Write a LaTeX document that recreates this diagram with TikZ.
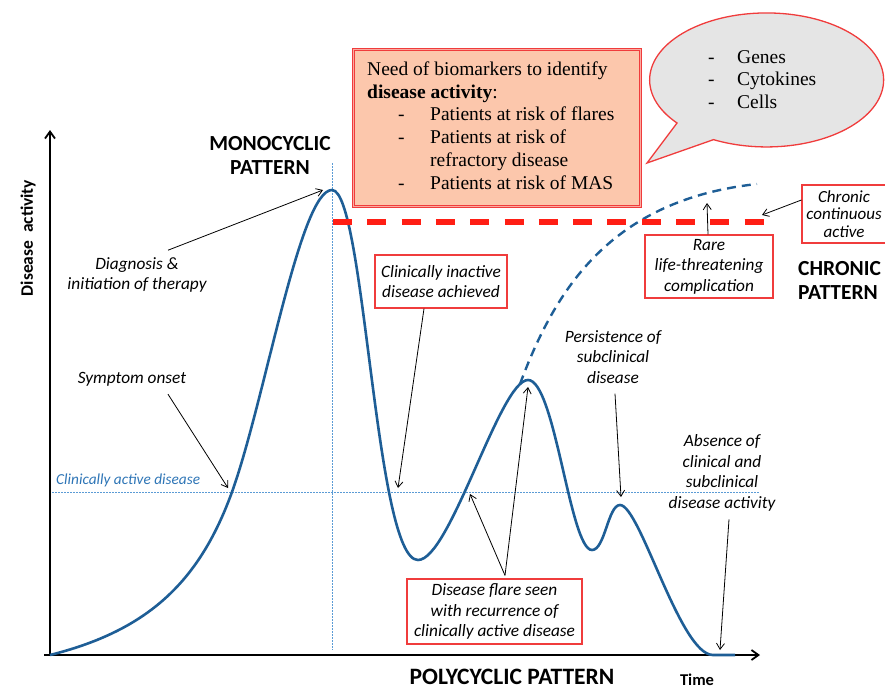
\documentclass[tikz,border=0pt]{standalone}
\usepackage{fontspec}
\usetikzlibrary{arrows.meta}
\newfontfamily\lab{Carlito}
\newfontfamily\tms{Liberation Serif}
\definecolor{curveblue}{RGB}{30,94,150}
\definecolor{dotblue}{RGB}{91,155,213}
\definecolor{txtblue}{RGB}{46,117,182}
\definecolor{boxred}{RGB}{240,60,60}
\definecolor{dashred}{RGB}{255,30,20}
\definecolor{salmon}{RGB}{252,199,172}
\definecolor{salmonedge}{RGB}{250,170,160}
\definecolor{bubblegray}{RGB}{229,229,229}
\begin{document}
\begin{tikzpicture}[x=1pt,y=-1pt,
  lbl/.style={font=\lab\itshape\fontsize{17.3}{20.5}\selectfont, align=center, inner sep=0pt},
  lblbox/.style={lbl, draw=boxred, line width=1.2pt, fill=white},
  head/.style={font=\lab\bfseries\fontsize{21.5}{24}\selectfont, align=center, inner sep=0pt},
  smallhead/.style={font=\lab\bfseries\fontsize{16.5}{19}\selectfont, inner sep=0pt},
  callout/.style={-{Straight Barb[length=6pt,width=8pt]}, line width=0.8pt, black},
  guide/.style={dotblue, line width=1pt, dash pattern=on 1.5pt off 1.5pt},
  axis/.style={-{Straight Barb[length=7pt,width=10pt]}, line width=1.8pt, black},
  curve/.style={curveblue, line width=2.6pt},
  serif/.style={font=\tms\fontsize{19.5}{22.7}\selectfont, inner sep=0pt, anchor=north west},
]
\useasboundingbox (0,0) rectangle (885,689);

% named points
\coordinate (O) at (50,655);
\coordinate (ytip) at (50,130);
\coordinate (xstart) at (44,655);
\coordinate (xtip) at (760,655);
\coordinate (vtop) at (332,163);
\coordinate (vbot) at (332,650);
\coordinate (hleft) at (52,492);
\coordinate (hright) at (760,492);
\coordinate (pk1) at (323,190);
\coordinate (onset) at (228,488);
\coordinate (cross1) at (398,488);
\coordinate (cross2) at (470,494);
\coordinate (pk2) at (528,387);
\coordinate (pk3) at (621,497);
\coordinate (flatend) at (720,650);
\coordinate (branch) at (707,203);
\coordinate (reddash) at (762,215);
\coordinate (brstart) at (520,384);
\coordinate (brend) at (757,184);
\coordinate (rdl) at (333,222);
\coordinate (rdr) at (765,222);

% guide lines
\draw[guide] (vtop) -- (vbot);
\draw[guide] (hleft) -- (hright);

% axes
\draw[axis] (O) -- (ytip);
\draw[axis] (xstart) -- (xtip);

% main curve
\draw[curve] (O) .. controls (150,630) and (200,580) .. (232,492)
  .. controls (265,400) and (300,190) .. (332,190)
  .. controls (365,190) and (375,560) .. (418,560)
  .. controls (450,560) and (500,380) .. (528,380)
  .. controls (555,380) and (570,550) .. (592,550)
  .. controls (605,550) and (608,505) .. (620,505)
  .. controls (640,505) and (680,655) .. (713,655) -- (735,655);

% chronic branch
\draw[curve, line width=2.4pt, dash pattern=on 9pt off 6pt] (brstart) .. controls (555,290) and (610,200) .. (brend);

% red dashed threshold
\draw[dashred, line width=6.5pt, dash pattern=on 19pt off 15.3pt] (rdl) -- (rdr);

% biomarker box
\node[draw=boxred, double=salmonedge, double distance=1.5pt, line width=0.8pt, fill=salmon,
      minimum width=287pt, minimum height=157pt, anchor=north west] (bio) at (353,49) {};
\node[serif] (biotxt) at (367,59.5) {\begin{tabular}{@{}p{31pt}@{}p{32pt}@{}l@{}}
\multicolumn{3}{@{}l@{}}{Need of biomarkers to identify}\\
\multicolumn{3}{@{}l@{}}{\textbf{disease activity}:}\\
&-&Patients at risk of flares\\
&-&Patients at risk of\\
&&refractory disease\\
&-&Patients at risk of MAS
\end{tabular}};

% speech bubble
\draw[boxred, line width=1.3pt, fill=bubblegray] (677,123) arc[start angle=140, end angle=477, x radius=117, y radius=67] -- (647,163) -- cycle;
\node[serif] (bubtxt) at (708,47) {\begin{tabular}{@{}p{29pt}@{}l@{}}
-&Genes\\
-&Cytokines\\
-&Cells
\end{tabular}};

% headings
\node[head] (mono) at (270,155) {MONOCYCLIC\\PATTERN};
\node[head, align=left, anchor=west] (chronh) at (798,280) {CHRONIC\\PATTERN};
\node[head, font=\lab\bfseries\fontsize{23.5}{26}\selectfont] (poly) at (512,677) {POLYCYCLIC PATTERN};
\node[smallhead] (time) at (697,680) {Time};
\node[smallhead, font=\lab\bfseries\fontsize{17.5}{20}\selectfont, rotate=90] (yl) at (28,238) {Disease\hspace{0.45em}activity};

% labels
\node[font=\lab\itshape\fontsize{15.3}{18}\selectfont, text=txtblue, anchor=west, inner sep=0pt] (cad) at (56,480) {Clinically active disease};
\node[lbl] (diag) at (137,275) {Diagnosis \&\\initiation of therapy};
\node[lbl] (symp) at (132,379) {Symptom onset};
\node[lblbox, minimum width=132pt, minimum height=53pt] (inact) at (441,281.5) {Clinically inactive\\disease achieved};
\node[lbl] (pers) at (613,357) {Persistence of\\subclinical\\disease};
\node[lblbox, minimum width=128pt, minimum height=63pt] (rare) at (709,266.5) {Rare\\life-threatening\\complication};
\node[lblbox, font=\lab\itshape\fontsize{17}{17.5}\selectfont, minimum width=84pt, minimum height=58pt] (chron) at (844,214) {Chronic\\continuous\\active};
\node[lblbox, minimum width=175pt, minimum height=65pt] (flare) at (494.5,611.5) {Disease flare seen\\with recurrence of\\clinically active disease};
\node[lbl] (abs) at (722,473) {Absence of\\clinical and\\subclinical\\disease activity};

% callouts
\draw[callout] ([xshift=31pt,yshift=7pt]diag.north) -- (pk1);
\draw[callout] ([xshift=36pt,yshift=-8pt]symp.south) -- (onset);
\draw[callout] ([xshift=-17pt]inact.south) -- (cross1);
\draw[callout] ([xshift=2pt,yshift=-10pt]pers.south) -- (pk3);
\draw[callout] ([xshift=-1pt]rare.north) -- (branch);
\draw[callout] ([xshift=0pt,yshift=14pt]chron.west) -- (reddash);
\draw[callout] ([xshift=10.5pt,yshift=3pt]flare.north) -- (cross2);
\draw[callout] ([xshift=10.5pt,yshift=3pt]flare.north) -- (pk2);
\draw[callout] ([xshift=7pt,yshift=-8pt]abs.south) -- (flatend);
\end{tikzpicture}
\end{document}
